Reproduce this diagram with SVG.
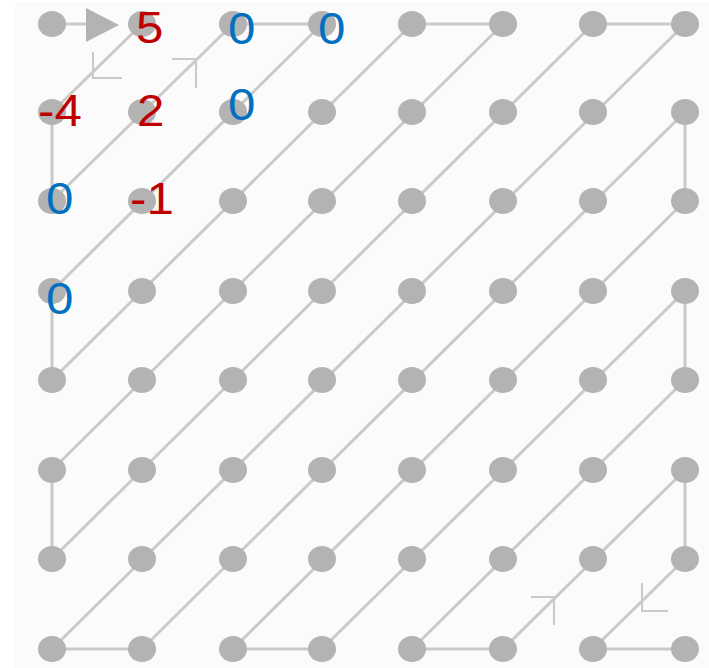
<svg xmlns="http://www.w3.org/2000/svg" width="709" height="668" viewBox="0 0 709 668">
<style>
.bg{fill:#fbfbfb}
.n{fill:#b3b3b3}
.c line{stroke:#cacaca;stroke-width:3;stroke-linecap:round}
.chev{fill:none;stroke:#cacaca;stroke-width:2}
.t{font-family:"Liberation Sans",Arial,sans-serif;font-size:44px}
.r{fill:#c00000}
.b{fill:#0070c0}
</style>
<rect width="709" height="668" fill="#ffffff"/>
<rect class="bg" x="15" y="2" width="694" height="666"/>
<g id="connectors" class="c">
<line x1="52" y1="24" x2="88" y2="24"/>
<polygon points="86,8 119,25 86,42" fill="#b3b3b3"/>
<line x1="142" y1="24" x2="52" y2="112"/>
<polyline class="chev" points="93,52 93,78 122,78"/>
<line x1="52" y1="112" x2="52" y2="201"/>
<line x1="52" y1="201" x2="233" y2="24"/>
<polyline class="chev" points="172,59 196,59 196,88"/>
<line x1="233" y1="24" x2="322" y2="24"/>
<line x1="322" y1="24" x2="52" y2="291"/>
<line x1="52" y1="291" x2="52" y2="380"/>
<line x1="52" y1="380" x2="412" y2="24"/>
<line x1="412" y1="24" x2="503" y2="24"/>
<line x1="503" y1="24" x2="52" y2="470"/>
<line x1="52" y1="470" x2="52" y2="559"/>
<line x1="52" y1="559" x2="593" y2="24"/>
<line x1="593" y1="24" x2="685" y2="24"/>
<line x1="685" y1="24" x2="52" y2="649"/>
<line x1="52" y1="649" x2="142" y2="649"/>
<line x1="142" y1="649" x2="685" y2="112"/>
<line x1="685" y1="112" x2="685" y2="201"/>
<line x1="685" y1="201" x2="233" y2="649"/>
<line x1="233" y1="649" x2="322" y2="649"/>
<line x1="322" y1="649" x2="685" y2="291"/>
<line x1="685" y1="291" x2="685" y2="380"/>
<line x1="685" y1="380" x2="412" y2="649"/>
<line x1="412" y1="649" x2="503" y2="649"/>
<line x1="503" y1="649" x2="685" y2="470"/>
<polyline class="chev" points="531,597 554,597 554,625"/>
<line x1="685" y1="470" x2="685" y2="559"/>
<line x1="685" y1="559" x2="593" y2="649"/>
<polyline class="chev" points="642,583 642,611 668,611"/>
<line x1="593" y1="649" x2="685" y2="649"/>
</g>
<g id="n0-0"><ellipse class="n" cx="52" cy="24" rx="14" ry="13"/></g>
<g id="n1-0"><ellipse class="n" cx="142" cy="24" rx="14" ry="13"/><text class="t r" transform="translate(136,43) scale(1.12,1)">5</text></g>
<g id="n2-0"><ellipse class="n" cx="233" cy="24" rx="14" ry="13"/><text class="t b" transform="translate(228,44) scale(1.12,1)">0</text></g>
<g id="n3-0"><ellipse class="n" cx="322" cy="24" rx="14" ry="13"/><text class="t b" transform="translate(318,44) scale(1.12,1)">0</text></g>
<g id="n4-0"><ellipse class="n" cx="412" cy="24" rx="14" ry="13"/></g>
<g id="n5-0"><ellipse class="n" cx="503" cy="24" rx="14" ry="13"/></g>
<g id="n6-0"><ellipse class="n" cx="593" cy="24" rx="14" ry="13"/></g>
<g id="n7-0"><ellipse class="n" cx="685" cy="24" rx="14" ry="13"/></g>
<g id="n0-1"><ellipse class="n" cx="52" cy="112" rx="14" ry="13"/><text class="t r" transform="translate(38,126) scale(1.12,1)">-4</text></g>
<g id="n1-1"><ellipse class="n" cx="142" cy="112" rx="14" ry="13"/><text class="t r" transform="translate(137,126) scale(1.12,1)">2</text></g>
<g id="n2-1"><ellipse class="n" cx="233" cy="112" rx="14" ry="13"/><text class="t b" transform="translate(228,120) scale(1.12,1)">0</text></g>
<g id="n3-1"><ellipse class="n" cx="322" cy="112" rx="14" ry="13"/></g>
<g id="n4-1"><ellipse class="n" cx="412" cy="112" rx="14" ry="13"/></g>
<g id="n5-1"><ellipse class="n" cx="503" cy="112" rx="14" ry="13"/></g>
<g id="n6-1"><ellipse class="n" cx="593" cy="112" rx="14" ry="13"/></g>
<g id="n7-1"><ellipse class="n" cx="685" cy="112" rx="14" ry="13"/></g>
<g id="n0-2"><ellipse class="n" cx="52" cy="201" rx="14" ry="13"/><text class="t b" transform="translate(46,214) scale(1.12,1)">0</text></g>
<g id="n1-2"><ellipse class="n" cx="142" cy="201" rx="14" ry="13"/><text class="t r" transform="translate(130,214) scale(1.12,1)">-1</text></g>
<g id="n2-2"><ellipse class="n" cx="233" cy="201" rx="14" ry="13"/></g>
<g id="n3-2"><ellipse class="n" cx="322" cy="201" rx="14" ry="13"/></g>
<g id="n4-2"><ellipse class="n" cx="412" cy="201" rx="14" ry="13"/></g>
<g id="n5-2"><ellipse class="n" cx="503" cy="201" rx="14" ry="13"/></g>
<g id="n6-2"><ellipse class="n" cx="593" cy="201" rx="14" ry="13"/></g>
<g id="n7-2"><ellipse class="n" cx="685" cy="201" rx="14" ry="13"/></g>
<g id="n0-3"><ellipse class="n" cx="52" cy="291" rx="14" ry="13"/><text class="t b" transform="translate(46,314) scale(1.12,1)">0</text></g>
<g id="n1-3"><ellipse class="n" cx="142" cy="291" rx="14" ry="13"/></g>
<g id="n2-3"><ellipse class="n" cx="233" cy="291" rx="14" ry="13"/></g>
<g id="n3-3"><ellipse class="n" cx="322" cy="291" rx="14" ry="13"/></g>
<g id="n4-3"><ellipse class="n" cx="412" cy="291" rx="14" ry="13"/></g>
<g id="n5-3"><ellipse class="n" cx="503" cy="291" rx="14" ry="13"/></g>
<g id="n6-3"><ellipse class="n" cx="593" cy="291" rx="14" ry="13"/></g>
<g id="n7-3"><ellipse class="n" cx="685" cy="291" rx="14" ry="13"/></g>
<g id="n0-4"><ellipse class="n" cx="52" cy="380" rx="14" ry="13"/></g>
<g id="n1-4"><ellipse class="n" cx="142" cy="380" rx="14" ry="13"/></g>
<g id="n2-4"><ellipse class="n" cx="233" cy="380" rx="14" ry="13"/></g>
<g id="n3-4"><ellipse class="n" cx="322" cy="380" rx="14" ry="13"/></g>
<g id="n4-4"><ellipse class="n" cx="412" cy="380" rx="14" ry="13"/></g>
<g id="n5-4"><ellipse class="n" cx="503" cy="380" rx="14" ry="13"/></g>
<g id="n6-4"><ellipse class="n" cx="593" cy="380" rx="14" ry="13"/></g>
<g id="n7-4"><ellipse class="n" cx="685" cy="380" rx="14" ry="13"/></g>
<g id="n0-5"><ellipse class="n" cx="52" cy="470" rx="14" ry="13"/></g>
<g id="n1-5"><ellipse class="n" cx="142" cy="470" rx="14" ry="13"/></g>
<g id="n2-5"><ellipse class="n" cx="233" cy="470" rx="14" ry="13"/></g>
<g id="n3-5"><ellipse class="n" cx="322" cy="470" rx="14" ry="13"/></g>
<g id="n4-5"><ellipse class="n" cx="412" cy="470" rx="14" ry="13"/></g>
<g id="n5-5"><ellipse class="n" cx="503" cy="470" rx="14" ry="13"/></g>
<g id="n6-5"><ellipse class="n" cx="593" cy="470" rx="14" ry="13"/></g>
<g id="n7-5"><ellipse class="n" cx="685" cy="470" rx="14" ry="13"/></g>
<g id="n0-6"><ellipse class="n" cx="52" cy="559" rx="14" ry="13"/></g>
<g id="n1-6"><ellipse class="n" cx="142" cy="559" rx="14" ry="13"/></g>
<g id="n2-6"><ellipse class="n" cx="233" cy="559" rx="14" ry="13"/></g>
<g id="n3-6"><ellipse class="n" cx="322" cy="559" rx="14" ry="13"/></g>
<g id="n4-6"><ellipse class="n" cx="412" cy="559" rx="14" ry="13"/></g>
<g id="n5-6"><ellipse class="n" cx="503" cy="559" rx="14" ry="13"/></g>
<g id="n6-6"><ellipse class="n" cx="593" cy="559" rx="14" ry="13"/></g>
<g id="n7-6"><ellipse class="n" cx="685" cy="559" rx="14" ry="13"/></g>
<g id="n0-7"><ellipse class="n" cx="52" cy="649" rx="14" ry="13"/></g>
<g id="n1-7"><ellipse class="n" cx="142" cy="649" rx="14" ry="13"/></g>
<g id="n2-7"><ellipse class="n" cx="233" cy="649" rx="14" ry="13"/></g>
<g id="n3-7"><ellipse class="n" cx="322" cy="649" rx="14" ry="13"/></g>
<g id="n4-7"><ellipse class="n" cx="412" cy="649" rx="14" ry="13"/></g>
<g id="n5-7"><ellipse class="n" cx="503" cy="649" rx="14" ry="13"/></g>
<g id="n6-7"><ellipse class="n" cx="593" cy="649" rx="14" ry="13"/></g>
<g id="n7-7"><ellipse class="n" cx="685" cy="649" rx="14" ry="13"/></g>
</svg>
